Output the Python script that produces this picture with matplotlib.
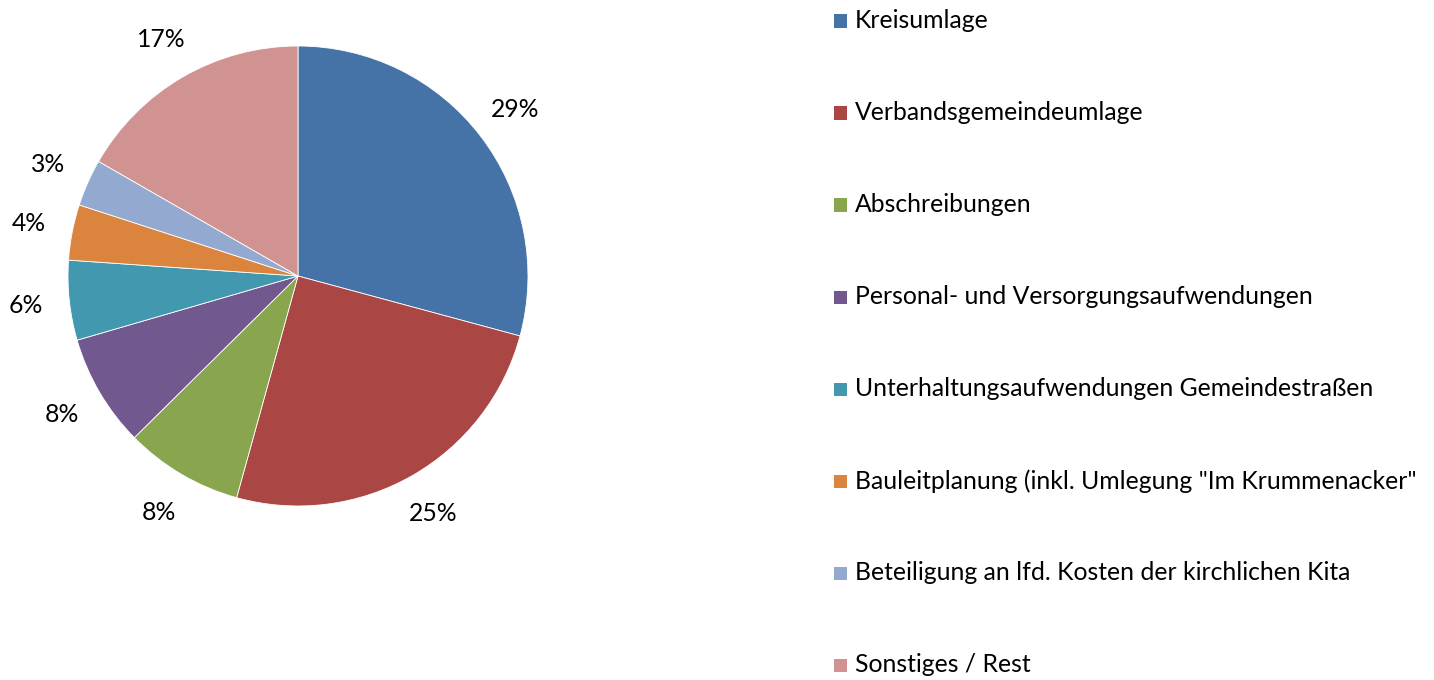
import matplotlib
matplotlib.use("Agg")
import matplotlib.pyplot as plt
from matplotlib.patches import Rectangle

categories = [
    "Kreisumlage",
    "Verbandsgemeindeumlage",
    "Abschreibungen",
    "Personal- und Versorgungsaufwendungen",
    "Unterhaltungsaufwendungen Gemeindestraßen",
    "Bauleitplanung (inkl. Umlegung \"Im Krummenacker\"",
    "Beteiligung an lfd. Kosten der kirchlichen Kita",
    "Sonstiges / Rest",
]
values = [29.2, 25.1, 8.3, 7.9, 5.6, 3.9, 3.3, 16.7]
colors = ["#4572A7", "#AA4643", "#89A54E", "#71588F",
          "#4198AF", "#DB843D", "#93A9CF", "#D19392"]

FONT = ["Lato", "DejaVu Sans"]
FS = 17.8

W, H = 1434, 680
fig = plt.figure(figsize=(W / 100, H / 100), dpi=100)

cx, cy, r = 298, 276, 230
ax = fig.add_axes([(cx - r) / W, (H - cy - r) / H, 2 * r / W, 2 * r / H])
wedges, texts = ax.pie(
    values, colors=colors, startangle=90, counterclock=False, radius=1,
    labels=[f"{v:.0f}%" for v in values], labeldistance=1.19,
    wedgeprops=dict(edgecolor="white", linewidth=0.6),
    textprops=dict(fontsize=FS, family=FONT, color="black"),
)
for t in texts:
    t.set_ha("center")
    t.set_va("center")
    t.set_clip_on(False)
ax.set_xlim(-1, 1)
ax.set_ylim(-1, 1)
ax.set_aspect("equal")
ax.axis("off")

# legend
x_box, x_text = 834, 855
y0, dy = 21, 92
sq = 13
for i, (lab, c) in enumerate(zip(categories, colors)):
    y = y0 + i * dy
    fig.patches.append(Rectangle(((x_box) / W, (H - y - sq / 2) / H), sq / W, sq / H,
                                 transform=fig.transFigure, facecolor=c, edgecolor="none"))
    fig.text(x_text / W, (H - y) / H, lab, fontsize=FS, family=FONT,
             ha="left", va="center", color="black")

fig.savefig("out.png", dpi=100, facecolor="white")
